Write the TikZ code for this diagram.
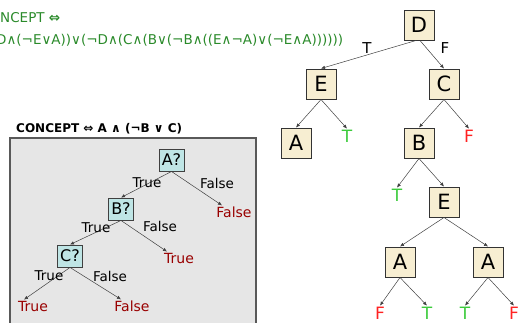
\documentclass[tikz,border=0pt]{standalone}
\usepackage{fontspec}
\setmainfont{DejaVu Sans}
\usetikzlibrary{arrows.meta}
\definecolor{boxfill}{HTML}{F7EED2}
\definecolor{qfill}{HTML}{BFE5E5}
\definecolor{panel}{HTML}{E6E6E6}
\definecolor{formula}{HTML}{2A8A2A}
\definecolor{leafT}{HTML}{3CCB3C}
\definecolor{leafF}{HTML}{FF2222}
\definecolor{darkred}{HTML}{990000}
\tikzset{
  dnode/.style={draw=black!80, fill=boxfill, minimum width=30pt, minimum height=30pt, inner sep=0pt, line width=1pt, font=\fontsize{21}{21}\selectfont},
  qnode/.style={draw=black!75, fill=qfill, minimum width=25pt, minimum height=22pt, inner sep=0pt, line width=0.9pt, font=\fontsize{16}{16}\selectfont},
  edge/.style={-{Latex[length=4pt,width=3.5pt]}, draw=black!75, line width=0.5pt},
  tleaf/.style={text=leafT, inner sep=1pt, font=\fontsize{17}{17}\selectfont},
  fleaf/.style={text=leafF, inner sep=1pt, font=\fontsize{17}{17}\selectfont},
  elabel/.style={inner sep=0pt, font=\fontsize{15}{15}\selectfont},
  blabel/.style={inner sep=0pt, font=\fontsize{13.5}{13.5}\selectfont},
  rleaf/.style={text=darkred, inner sep=1pt, font=\fontsize{14}{14}\selectfont},
  formulatext/.style={text=formula, inner sep=0pt, font=\fontsize{13.5}{13.5}\selectfont},
}
\begin{document}
\begin{tikzpicture}[x=1pt, y=-1pt]
\useasboundingbox (0,0) rectangle (524,322);
% formula
\node[formulatext, anchor=west] (f1) at (0,18) {NCEPT \textbf{⇔}};
\node[formulatext, anchor=west] (f2) at (-4,40) {D∧(¬E∨A))∨(¬D∧(C∧(B∨(¬B∧((E∧¬A)∨(¬E∧A))))))};
% right tree
\node[dnode] (D) at (419,25) {D};
\node[dnode] (E) at (321,84) {E};
\node[dnode] (C) at (444,84) {C};
\node[dnode] (A1) at (296,143) {A};
\node[tleaf] (t1) at (347,136) {T};
\node[dnode] (B) at (419,143) {B};
\node[fleaf] (f3) at (469,136) {F};
\node[tleaf] (t2) at (397,195) {T};
\node[dnode] (E2) at (444,202) {E};
\node[dnode] (A2) at (400,262) {A};
\node[dnode] (A3) at (488,262) {A};
\node[fleaf] (l1) at (380,313) {F};
\node[tleaf] (l2) at (427,313) {T};
\node[tleaf] (l3) at (465,313) {T};
\node[fleaf] (l4) at (514,313) {F};
\node[elabel] (lt) at (367,48) {T};
\node[elabel] (lf) at (445,48) {F};
\draw[edge] ([xshift=-3pt]D.south) -- (E.north);
\draw[edge] ([xshift=1pt]D.south) -- (C.north);
\draw[edge] (E.south) -- (A1.north);
\draw[edge] (E.south) -- (t1.north);
\draw[edge] (C.south) -- (B.north);
\draw[edge] (C.south) -- (f3.north);
\draw[edge] (B.south) -- (t2.north);
\draw[edge] (B.south) -- (E2.north);
\draw[edge] (E2.south) -- (A2.north);
\draw[edge] (E2.south) -- (A3.north);
\draw[edge] (A2.south) -- (l1.north);
\draw[edge] (A2.south) -- (l2.north);
\draw[edge] (A3.south) -- (l3.north);
\draw[edge] (A3.south) -- (l4.north);
% left panel
\node[anchor=west, inner sep=0pt, font=\bfseries\fontsize{12}{12}\selectfont] (title) at (16,129) {CONCEPT ⇔ A ∧ (¬B ∨ C)};
\draw[draw=black!65, fill=panel, line width=1.2pt] (10,138) rectangle (256,330);
\node[qnode] (qa) at (171.5,160) {A?};
\node[qnode] (qb) at (121,209) {B?};
\node[qnode] (qc) at (70,256) {C?};
\node[rleaf] (ra) at (234,212) {False};
\node[rleaf] (rb) at (179,258) {True};
\node[rleaf] (rc) at (33,306) {True};
\node[rleaf] (rd) at (132,306) {False};
\draw[edge] (qa.south) -- (qb.north);
\draw[edge] (qa.south) -- ([xshift=-12pt]ra.north);
\draw[edge] (qb.south) -- (qc.north);
\draw[edge] (qb.south) -- ([xshift=-12pt]rb.north);
\draw[edge] (qc.south) -- ([xshift=-9pt]rc.north);
\draw[edge] (qc.south) -- ([xshift=-11pt]rd.north);
\node[blabel] (la1) at (147,183) {True};
\node[blabel] (la2) at (217,183) {False};
\node[blabel] (lb1) at (96,228) {True};
\node[blabel] (lb2) at (160,226) {False};
\node[blabel] (lc1) at (49,276) {True};
\node[blabel] (lc2) at (110,276) {False};
\end{tikzpicture}
\end{document}
